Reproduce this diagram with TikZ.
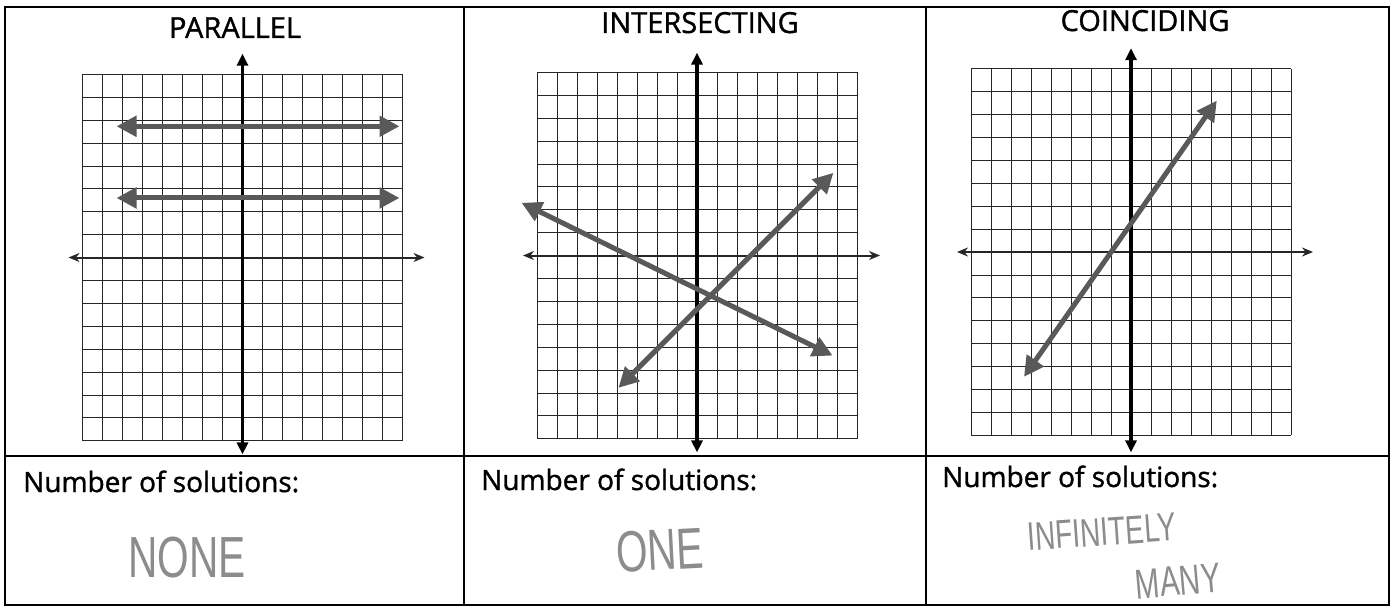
\documentclass[tikz,border=0pt]{standalone}
\usepackage{fontspec}
\setmainfont{Open Sans}
\newfontfamily\labfont{Open Sans}[FakeBold=1.2]
\newfontfamily\handfont{Liberation Sans}[FakeStretch=0.7]
\usetikzlibrary{arrows.meta}
\tikzset{
  frameline/.style={draw=black, line width=1.3pt},
  gridline/.style={draw=black!85, line width=0.8pt},
  yaxis/.style={draw=black, line width=3.5pt,
    {Triangle[length=12pt,width=11pt]}-{Triangle[length=12pt,width=11pt]}},
  xaxis/.style={draw=black!85, line width=2pt,
    {Stealth[length=11pt,width=9pt]}-{Stealth[length=11pt,width=9pt]}},
  solline/.style={draw=black!65, line width=5pt,
    {Triangle[length=20pt,width=20pt]}-{Triangle[length=20pt,width=20pt]}},
  head/.style={font=\labfont\fontsize{29}{31}\selectfont, anchor=base, inner sep=0pt},
  numlab/.style={font=\labfont\fontsize{28}{30}\selectfont, anchor=base west, inner sep=0pt},
  hand/.style={font=\handfont\fontsize{58}{60}\selectfont, text=black!45, inner sep=0pt}
}
\begin{document}
\begin{tikzpicture}[x=1pt,y=-1pt]
\useasboundingbox (0,0) rectangle (1392,610);
\fill[white] (0,0) rectangle (1392,610);

\draw[frameline] (5,7) rectangle (1389,605);
\draw[frameline] (464,7) -- (464,605);
\draw[frameline] (926,7) -- (926,605);
\draw[frameline] (5,456) -- (1389,456);

\node[head] (hpar) at (235,38) {PARALLEL};
\node[head] (hint) at (700,33) {INTERSECTING};
\node[head] (hcoi) at (1145,31) {COINCIDING};

\begin{scope}[shift={(242.5,257.5)}, x=20pt, y=22.9pt]
  \draw[gridline, step=1] (-8,-8) grid (8,8);
  \coordinate (pyt) at (0,8.9);  \coordinate (pyb) at (0,-8.6);
  \coordinate (pxl) at (-8.7,0); \coordinate (pxr) at (9.1,0);
  \draw[xaxis] (pxl) -- (pxr);
  \draw[yaxis] (pyt) -- (pyb);
  \coordinate (pal) at (-6.3,5.73); \coordinate (par) at (7.85,5.73);
  \coordinate (pbl) at (-6.3,2.6);  \coordinate (pbr) at (7.85,2.6);
  \draw[solline] (pal) -- (par);
  \draw[solline] (pbl) -- (pbr);
\end{scope}

\begin{scope}[shift={(697,255.5)}, x=20pt, y=22.9pt]
  \draw[gridline, step=1] (-8,-8) grid (8,8);
  \coordinate (iyt) at (0,8.86); \coordinate (iyb) at (0,-8.6);
  \coordinate (ixl) at (-8.7,0); \coordinate (ixr) at (9.15,0);
  \draw[xaxis] (ixl) -- (ixr);
  \draw[yaxis] (iyt) -- (iyb);
  \coordinate (ias) at (-8.77,2.3);  \coordinate (iae) at (6.78,-4.37);
  \coordinate (ibs) at (-3.93,-5.78); \coordinate (ibe) at (6.82,3.61);
  \draw[solline] (ias) -- (iae);
  \draw[solline] (ibs) -- (ibe);
\end{scope}

\begin{scope}[shift={(1131,252)}, x=20pt, y=22.9pt]
  \draw[gridline, step=1] (-8,-8) grid (8,8);
  \coordinate (cyt) at (0,8.9);  \coordinate (cyb) at (0,-8.75);
  \coordinate (cxl) at (-8.7,0); \coordinate (cxr) at (9.1,0);
  \draw[xaxis] (cxl) -- (cxr);
  \draw[yaxis] (cyt) -- (cyb);
  \coordinate (cls) at (-5.35,-5.45); \coordinate (cle) at (4.29,6.61);
  \draw[solline] (cls) -- (cle);
\end{scope}

\node[numlab] (n1) at (23,492) {Number of solutions:};
\node[numlab] (n2) at (481,490) {Number of solutions:};
\node[numlab] (n3) at (942,487) {Number of solutions:};

\node[hand] (a1) at (187,558) {NONE};
\node[hand, rotate=3] (a2) at (660,550) {ONE};
\node[hand, rotate=4, font=\handfont\fontsize{40}{42}\selectfont] (a3) at (1102,532) {INFINITELY};
\node[hand, rotate=5, font=\handfont\fontsize{42}{44}\selectfont] (a4) at (1178,581) {MANY};
\end{tikzpicture}
\end{document}
